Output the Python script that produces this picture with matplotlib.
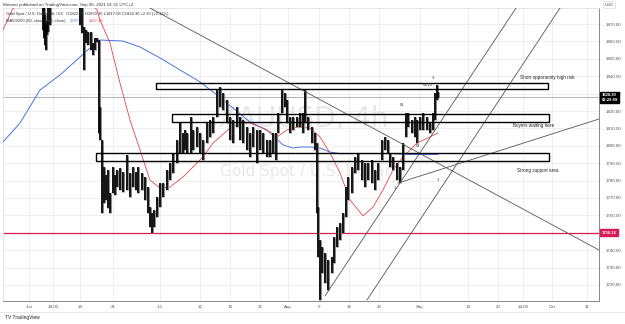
import matplotlib.pyplot as plt
from matplotlib.patches import Rectangle

plt.rcParams["font.family"] = ["Liberation Sans", "DejaVu Sans"]

# x = bar number on the time axis (4h bars), y = price in USD
bars = [43, 44, 45, 46, 47, 48, 50, 80, 82, 84, 86, 88, 91, 93, 95, 97, 98.5,
        100, 102, 104, 106, 108, 110, 113, 115, 117, 120, 123, 127, 130, 133, 136, 138,
        142, 145, 148, 150, 152, 154, 157, 160, 163, 167, 170, 173, 177, 180, 183, 185,
        187, 191, 193, 197, 200, 203, 207, 210, 213, 217, 220, 223, 227, 230, 233, 237,
        240, 243, 247, 250, 253, 257, 260, 263, 267, 270, 273, 276, 278, 282, 285, 287,
        290, 293, 297, 300, 303, 305, 308, 312, 315, 317, 318, 320, 322, 325, 328, 332,
        334, 337, 340, 343, 346, 348, 352, 355, 358, 362, 365, 368, 372, 375, 378, 382,
        385, 388, 390, 393, 397, 400, 403, 406, 408, 412, 415, 417, 420, 423, 427, 430,
        433, 435, 437, 438]
highs = [1882, 1882, 1875, 1869.4, 1872, 1880, 1883, 1882, 1880, 1868.3, 1866.6, 1865.4,
         1865.4, 1859.1, 1862, 1862, 1860.8,
         1822.3, 1803.3, 1787.8, 1783.2, 1786.1, 1772.9, 1787.8, 1783.2, 1786.1, 1787.2,
         1784.9, 1794.7, 1784.4, 1787.8, 1784.9, 1787.8, 1784.4, 1782.1, 1776.3, 1764.8,
         1761.4, 1763.1, 1770.6, 1778.6, 1778.6, 1786.1, 1790.1, 1795.9, 1803.3, 1813.7,
         1807.4, 1809.1, 1807.4, 1816.6, 1809.1, 1810.8, 1807.4, 1803.3, 1813.1, 1814.8,
         1816.6, 1832.1, 1833.8, 1830.3, 1826.3, 1816.6, 1814.8, 1822.3, 1816.6, 1814.8,
         1810.8, 1807.4, 1810.8, 1809.1, 1809.1, 1807.4, 1803.3, 1803.3, 1807.4, 1807.4,
         1818.9, 1832.1, 1830.3, 1826.3, 1816.6, 1816.6, 1816.6, 1818.9, 1818.9, 1832.1,
         1816.6, 1810.8, 1807.4, 1801.6, 1764.8, 1745.9, 1741.8, 1738.4, 1734.4, 1736.1,
         1747.6, 1753.3, 1755.6, 1761.4, 1776.3, 1782.1, 1787.8, 1793.6, 1795.9, 1791.8,
         1790.1, 1790.1, 1791.8, 1786.1, 1790.1, 1803.3, 1805.1, 1803.3, 1795.9, 1793.6,
         1790.1, 1787.8, 1801.6, 1818.9, 1818.9, 1814.8, 1816.6, 1814.8, 1816.6, 1818.9,
         1816.6, 1813.1, 1818.9, 1830.3, 1834.9, 1830.9]
lows = [1866.6, 1862.0, 1857.9, 1855.1, 1863.7, 1865.4, 1869.4, 1869.4, 1864.8, 1843.6,
        1859.1, 1857.9, 1855.1, 1852.2, 1855.1, 1859.7, 1807.4,
        1803.3, 1761.4, 1767.1, 1768.9, 1764.3, 1761.4, 1772.9, 1771.7, 1776.3, 1774.6,
        1773.4, 1774.6, 1770.6, 1776.3, 1774.6, 1772.9, 1774.6, 1768.9, 1761.4, 1753.3,
        1749.9, 1753.3, 1759.1, 1764.8, 1770.6, 1774.6, 1780.3, 1784.4, 1790.1, 1795.9,
        1795.9, 1797.6, 1795.9, 1795.9, 1797.6, 1799.3, 1795.9, 1791.8, 1801.6, 1805.1,
        1807.4, 1816.6, 1822.3, 1820.6, 1813.1, 1803.3, 1801.6, 1810.8, 1803.3, 1801.6,
        1797.6, 1793.6, 1799.3, 1790.1, 1797.6, 1795.9, 1793.6, 1793.6, 1795.9, 1791.8,
        1807.4, 1818.9, 1822.3, 1813.1, 1807.4, 1809.1, 1810.8, 1810.8, 1807.4, 1813.1,
        1809.1, 1801.6, 1797.6, 1761.4, 1736.1, 1711.4, 1726.9, 1721.1, 1717.1, 1726.9,
        1732.6, 1741.8, 1745.9, 1749.9, 1759.1, 1768.9, 1772.9, 1784.4, 1786.1, 1780.3,
        1776.3, 1780.3, 1778.6, 1774.6, 1780.3, 1791.8, 1797.6, 1795.9, 1787.8, 1786.1,
        1780.3, 1778.6, 1786.1, 1805.1, 1810.8, 1807.4, 1805.1, 1801.6, 1809.1, 1809.1,
        1809.1, 1807.4, 1809.1, 1814.8, 1826.3, 1827.5]

ma200_x = [3, 20, 40, 60, 80, 90, 100, 123, 140, 160, 180, 200, 217, 233, 250, 267, 283,
           293, 300, 310, 320, 330, 340, 360, 390, 410, 438]
ma200_y = [1802.2, 1813.1, 1832.1, 1840.7, 1851.0, 1856.2, 1860.8, 1860.2, 1856.8, 1850.5,
           1843.6, 1836.7, 1829.2, 1821.7, 1813.7, 1809.1, 1800.5, 1798.7, 1799.3, 1799.3,
           1798.7, 1796.4, 1795.5, 1795.5, 1795.5, 1795.0, 1795.0]
ma50_x = [3, 12, 40, 80, 97, 100, 110, 120, 130, 140, 150, 160, 170, 183, 193, 203, 213,
          220, 230, 240, 250, 260, 270, 277, 287, 297, 310, 320, 330, 340, 350, 363, 373,
          383, 393, 403, 417, 430, 438]
ma50_y = [1866.6, 1878, 1895, 1890, 1878, 1872.3, 1859.1, 1836.1, 1814.8, 1797.6, 1780.3,
          1775.7, 1776.3, 1782.1, 1787.8, 1793.6, 1801.6, 1805.1, 1810.2, 1813.1, 1813.1,
          1810.8, 1808.0, 1805.1, 1809.1, 1810.8, 1810.2, 1805.1, 1795.9, 1784.4, 1768.9,
          1759.7, 1764.8, 1774.6, 1786.1, 1793.6, 1801.6, 1805.1, 1807.4]

# zones: (start bar, end bar, bottom price, top price, label)
zones = [(156, 548, 1832.6, 1836.1, "Short opportunity high risk"),
         (172, 549, 1813.7, 1818.3, "Buyers waiting here"),
         (96, 549, 1791.3, 1795.9, "Strong support area")]
zone_label_pos = [(520, 1839.5), (513, 1811.8), (517, 1786.0)]

# trend lines: ((x0, p0), (x1, p1))
trend_lines = [((150, 1879.2), (599, 1740.1)),
               ((325, 1713.7), (518, 1880.9)),
               ((367, 1711.4), (562, 1880.9)),
               ((398, 1778.6), (599, 1815.4))]
wave_labels = [(395, 1775.8, "1"), (402, 1823.5, "01"), (418, 1800.0, "01"),
               (428, 1835.0, "01/12"), (433, 1839.0, "3"), (438, 1780.5, "1")]

last_price = 1828.30
support_line = 1750.16
tick_pos = [29, 53, 80, 113, 160, 200, 230, 260, 288, 319, 349, 379, 420, 468, 498, 523,
            552, 587]
tick_lab = ["Jun", "14:00", "14", "21", "Jul", "12", "19", "26", "Aug", "9", "16", "23",
            "Sep", "13", "20", "14:00", "Oct", "11"]
price_ticks = list(range(1720, 1871, 10))

W, H = 625, 324
fig = plt.figure(figsize=(W / 100, H / 100), dpi=100)
fig.patch.set_facecolor("white")
ax = fig.add_axes([3 / W, 1 - 301 / H, 596 / W, 293 / H])
ax.set_xlim(3, 599)
ax.set_ylim(1710.8, 1879.2)

ax.set_xticks(tick_pos)
ax.set_xticklabels(tick_lab)
ax.set_yticks(price_ticks)
# the 1750 label sits under the red price box on the reference
ax.set_yticklabels(["" if p == 1750 else "%.2f" % p for p in price_ticks])
ax.yaxis.tick_right()
ax.tick_params(axis="both", length=0, labelsize=3.2, labelcolor="#555555")
ax.tick_params(axis="y", pad=4.5)
ax.tick_params(axis="x", pad=3)
ax.grid(True, color="#ededed", lw=0.6)
ax.set_axisbelow(True)
for s in ["top", "left"]:
    ax.spines[s].set_color("#e0e0e0")
    ax.spines[s].set_linewidth(0.6)
for s in ["right", "bottom"]:
    ax.spines[s].set_color("#888888")
    ax.spines[s].set_linewidth(0.7)

# watermark
ax.text(303, 1815.5, "XAUUSD, 4h", fontsize=20, color="#e8e8e8", ha="center", va="center",
        family="DejaVu Sans", zorder=0)
ax.text(305, 1785.5, "Gold Spot / U.S. Dollar", fontsize=11, color="#e8e8e8", ha="center",
        va="center", family="DejaVu Sans", zorder=0)

ax.axhline(last_price, color="#a8a8a8", lw=0.6, zorder=1)
ax.axhline(support_line, color="#d81b55", lw=0.9, zorder=2)

ax.plot(ma200_x, ma200_y, color="#4a74e0", lw=0.7, zorder=3)
ax.plot(ma50_x, ma50_y, color="#e04848", lw=0.6, zorder=3)

ax.vlines(bars, lows, highs, color="#8a8a8a", lw=2.2, zorder=4)
ax.vlines(bars, lows, highs, color="black", lw=1.2, zorder=5)

for (x0, p0), (x1, p1) in trend_lines:
    ax.plot([x0, x1], [p0, p1], color="#555555", lw=0.6, zorder=6)

for (x0, x1, p0, p1, lab), (lx, ly) in zip(zones, zone_label_pos):
    ax.add_patch(Rectangle((x0, p0), x1 - x0, p1 - p0, fill=False, ec="black", lw=1.0, zorder=7))
    ax.text(lx, ly, lab, fontsize=3.3, color="#222222", va="center", zorder=8)

for x, p, lab in wave_labels:
    ax.text(x, p, lab, fontsize=3.0, color="#333333", ha="center", va="center", zorder=8)

# right axis price boxes
ytr = ax.get_yaxis_transform()
ax.text(1.004, last_price - 0.6, "1828.30\n02:29:09", transform=ytr, fontsize=3.0,
        color="white", fontweight="bold", va="center", ha="left", linespacing=1.1,
        zorder=10, clip_on=False, bbox=dict(boxstyle="square,pad=0.3", fc="black", ec="black"))
ax.text(1.004, support_line, "1750.16", transform=ytr, fontsize=3.0, color="white",
        fontweight="bold", va="center", ha="left", zorder=10, clip_on=False,
        bbox=dict(boxstyle="square,pad=0.35", fc="#d81b55", ec="#d81b55"))

# header and footer texts
fig.text(3 / W, 1 - 5 / H, "Birtman published on TradingView.com, Sep 06, 2021 01:31 UTC+2",
         fontsize=3.2, color="#333333", va="center")
fig.text(6 / W, 1 - 14 / H,
         "Gold Spot / U.S. Dollar, 4h, IDC  O1822.81 H1830.36 L1817.08 C1828.30 +2.30 (+0.13%)",
         fontsize=3.0, color="#333333", va="center")
t_ma = fig.text(6 / W, 1 - 21 / H, "MA50/200 (50, close, 200, close)", fontsize=3.0,
                color="#333333", va="center")
ann_b = ax.annotate("1797.54", xy=(1, 0.5), xycoords=t_ma, xytext=(3, 0),
                    textcoords="offset points", fontsize=3.0, color="#4a74e0", va="center",
                    annotation_clip=False)
ax.annotate("1807.46", xy=(1, 0.5), xycoords=ann_b, xytext=(3, 0),
            textcoords="offset points", fontsize=3.0, color="#e04848", va="center",
            annotation_clip=False)
fig.text(605 / W, 1 - 5 / H, "USD", fontsize=3.0, color="#555555", va="center",
         bbox=dict(boxstyle="round,pad=0.3", fc="white", ec="#cccccc", lw=0.4))
fig.text(5 / W, 1 - 317 / H, "TV TradingView", fontsize=3.5, color="#222222", va="center")
fig.add_artist(plt.Line2D([0, 1], [1 - 312 / H, 1 - 312 / H], color="#e0e0e0", lw=0.6))

fig.savefig("out.png", dpi=100)
